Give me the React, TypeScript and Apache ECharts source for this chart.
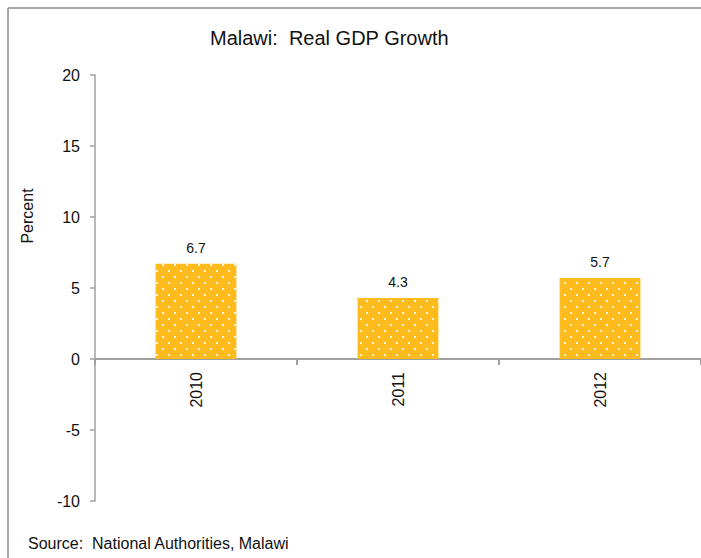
import React, { useEffect, useRef } from "react";
import * as echarts from "echarts";

const categories = ["2010", "2011", "2012"];
const growth = [6.7, 4.3, 5.7];
const yTicks = { min: -10, max: 20, interval: 5 };

export default function App() {
  const ref = useRef<HTMLDivElement>(null);
  useEffect(() => {
    if (!ref.current) return;
    const chart = echarts.init(ref.current, null, { renderer: "svg" });
    const font = "'Liberation Sans', Arial, sans-serif";
    chart.setOption({
      animation: false,
      backgroundColor: "#ffffff",
      textStyle: { fontFamily: font },
      title: {
        text: "Malawi:  Real GDP Growth",
        left: 205,
        top: 23,
        textStyle: { fontFamily: font, fontSize: 20, fontWeight: "normal", color: "#111" },
      },
      grid: { left: 95, top: 75, bottom: 57, width: 609, containLabel: false },
      xAxis: {
        type: "category",
        data: categories,
        position: "bottom",
        offset: -142,
        axisLine: { onZero: false, lineStyle: { color: "#a0a0a0", width: 2 } },
        axisTick: { show: true, length: 6, lineStyle: { color: "#a0a0a0", width: 2 } },
        axisLabel: { rotate: 90, fontSize: 16, color: "#111", margin: 13, fontFamily: font },
        splitLine: { show: false },
      },
      yAxis: {
        type: "value",
        min: yTicks.min,
        max: yTicks.max,
        interval: yTicks.interval,
        axisLine: { show: true, lineStyle: { color: "#a0a0a0", width: 1.5 } },
        axisTick: { show: true, length: 5, lineStyle: { color: "#a0a0a0", width: 1.5 } },
        axisLabel: { fontSize: 16, color: "#111", margin: 15, fontFamily: font },
        splitLine: { show: false },
      },
      series: [
        {
          type: "bar",
          data: growth,
          barWidth: "40%",
          itemStyle: {
            color: "#FDBB1E",
            decal: {
              symbol: "rect",
              symbolSize: 1,
              color: "rgba(255,255,255,0.85)",
              dashArrayX: [[2, 10], [0, 6, 2, 4]],
              dashArrayY: [2, 4],
              rotation: 0,
            },
          },
          label: {
            show: true,
            position: "top",
            distance: 9,
            fontSize: 14,
            color: "#111",
            fontFamily: font,
          },
        },
      ],
      graphic: [
        {
          type: "line",
          shape: { x1: 8, y1: 8, x2: 701, y2: 8 },
          style: { stroke: "#8a8a8a", lineWidth: 1.5 },
        },
        {
          type: "line",
          shape: { x1: 8, y1: 8, x2: 8, y2: 558 },
          style: { stroke: "#8a8a8a", lineWidth: 1.5 },
        },
        {
          type: "text",
          x: 27,
          y: 216,
          rotation: Math.PI / 2,
          style: {
            text: "Percent",
            fontSize: 16,
            fontFamily: font,
            fill: "#111",
            textAlign: "center",
            textVerticalAlign: "middle",
          },
        },
        {
          type: "text",
          x: 28,
          y: 543,
          style: {
            text: "Source:  National Authorities, Malawi",
            fontSize: 16,
            fontFamily: font,
            fill: "#111",
            textAlign: "left",
            textVerticalAlign: "middle",
          },
        },
      ],
    });
    return () => chart.dispose();
  }, []);
  return (
    <div
      ref={ref}
      style={{ position: "fixed", left: 0, top: 0, width: 701, height: 558 }}
    />
  );
}
